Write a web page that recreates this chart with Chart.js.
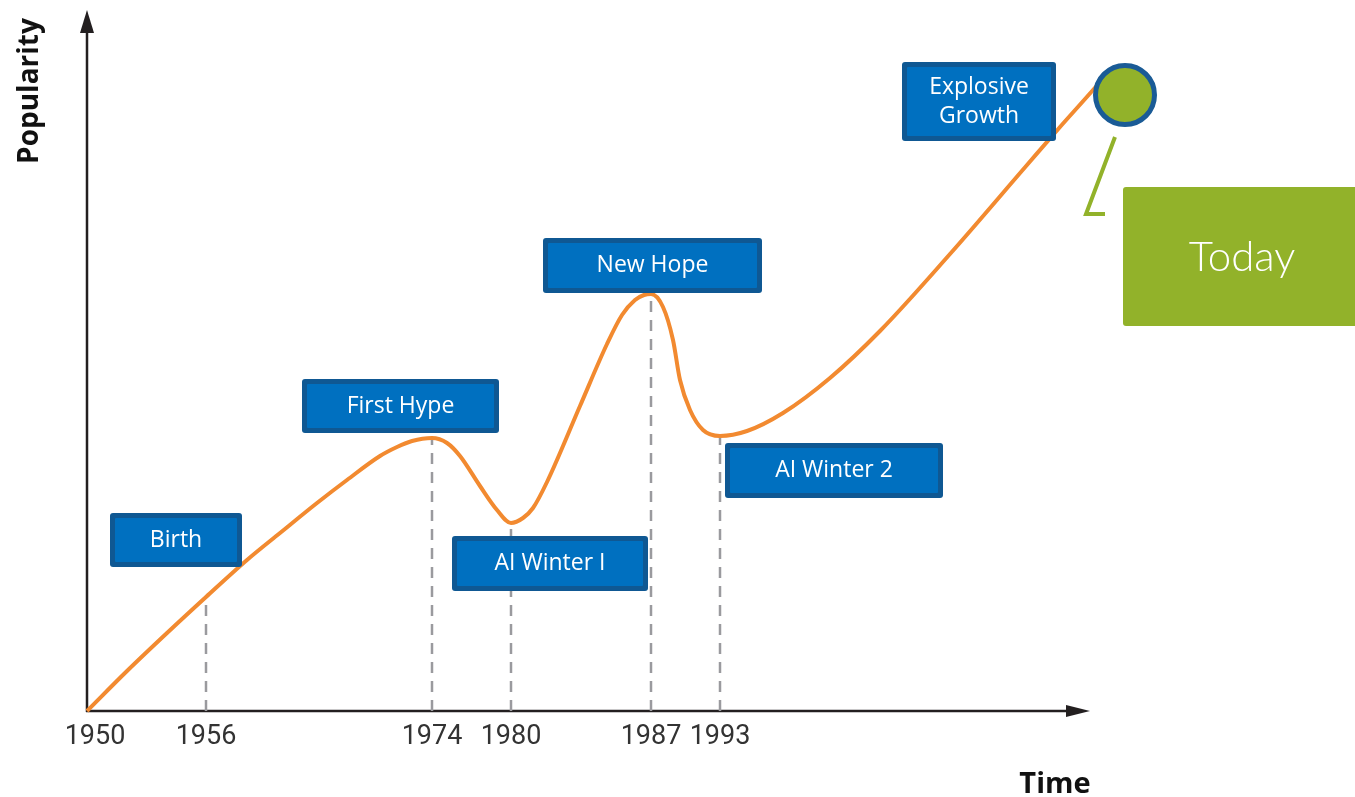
<!DOCTYPE html>
<html>
<head>
<meta charset="utf-8">
<script src="https://cdn.jsdelivr.net/npm/chart.js@4.4.0/dist/chart.umd.min.js"></script>
<style>
  html, body { margin: 0; padding: 0; background: #ffffff; }
  #wrap { width: 1355px; height: 797px; }
</style>
</head>
<body>
<div id="wrap"><canvas id="aiHistory" width="1355" height="797"></canvas></div>
<script>
// timeline ticks (position along the time axis is not linear in years)
const tickYears = ["1950", "1956", "1974", "1980", "1987", "1993"];
const tickPos = [0, 119, 345, 424, 564, 633];
const axisEnd = 1003; // where the time arrow stops
const axisTop = 701;  // where the popularity arrow stops

// popularity curve
const curveX = [0, 40, 80, 119, 160, 193, 230, 260, 293, 310, 325, 345, 360, 373, 393, 410, 424, 436, 446, 460, 493, 520, 535, 548, 557, 564, 576, 586, 593, 603, 616, 633, 660, 696, 743, 793, 863, 940, 973, 1006, 1018];
const curveY = [0, 40, 78, 114, 151, 178, 208, 231, 255, 264, 270, 273, 268, 255, 225, 201, 188, 193, 203, 229, 305, 367, 396, 411, 416, 417, 404, 371, 331, 301, 281, 275, 280, 298, 333, 380, 457, 546, 584, 621, 635];

// event names shown in the blue boxes
const eventLabels = [["Birth"], ["First Hype"], ["AI Winter I"], ["New Hope"], ["AI Winter 2"], ["Explosive", "Growth"]];
const todayLabel = "Today";

// today marker + its connector
const todayPoint = { x: 1038, y: 616 };
const connectorX = [1028, 999, 1018];
const connectorY = [574, 497, 497];

// box layout (center in axis units, size in px)
const boxLayout = [
  { cx: 89, cy: 171, w: 132, h: 54 },
  { cx: 313.5, cy: 305, w: 197, h: 54 },
  { cx: 463, cy: 147.5, w: 196, h: 55 },
  { cx: 565.5, cy: 445.5, w: 219, h: 55 },
  { cx: 747, cy: 240.5, w: 218, h: 55 },
  { cx: 892, cy: 609.5, w: 154, h: 79 },
];

const ORANGE = "#F28A30";
const BLUE = "#0070C0";
const BLUE_EDGE = "#0F5893";
const GREEN = "#92B22A";
const AXIS = "#231F20";

function curveValueAt(x) {
  const i = curveX.indexOf(x);
  return i >= 0 ? curveY[i] : 0;
}

const curveData = curveX.map((x, i) => ({ x: x, y: curveY[i] }));

// one dashed guide per tick (except the origin)
const guideSets = tickPos.slice(1).map((p) => ({
  data: [{ x: p, y: 0 }, { x: p, y: curveValueAt(p) }],
  borderColor: "#9A9A9E",
  borderWidth: 2.5,
  borderDash: [11, 8],
  pointRadius: 0,
  tension: 0,
  order: 3,
}));

function roundRect(ctx, x, y, w, h, r) {
  ctx.beginPath();
  ctx.moveTo(x + r, y);
  ctx.lineTo(x + w - r, y);
  ctx.quadraticCurveTo(x + w, y, x + w, y + r);
  ctx.lineTo(x + w, y + h - r);
  ctx.quadraticCurveTo(x + w, y + h, x + w - r, y + h);
  ctx.lineTo(x + r, y + h);
  ctx.quadraticCurveTo(x, y + h, x, y + h - r);
  ctx.lineTo(x, y + r);
  ctx.quadraticCurveTo(x, y, x + r, y);
  ctx.closePath();
}

const axesPlugin = {
  id: "arrowAxes",
  beforeDatasetsDraw(chart) {
    const ctx = chart.ctx;
    const xs = chart.scales.x;
    const ys = chart.scales.y;
    const x0 = xs.getPixelForValue(0);
    const y0 = ys.getPixelForValue(0);
    const xEnd = xs.getPixelForValue(axisEnd);
    const yEnd = ys.getPixelForValue(axisTop);

    ctx.save();
    ctx.strokeStyle = AXIS;
    ctx.fillStyle = AXIS;
    ctx.lineWidth = 2.5;
    // y axis
    ctx.beginPath();
    ctx.moveTo(x0, y0 + 1);
    ctx.lineTo(x0, yEnd + 20);
    ctx.stroke();
    ctx.beginPath();
    ctx.moveTo(x0, yEnd);
    ctx.lineTo(x0 - 7, yEnd + 23);
    ctx.lineTo(x0 + 7, yEnd + 23);
    ctx.closePath();
    ctx.fill();
    // x axis
    ctx.beginPath();
    ctx.moveTo(x0 - 1, y0);
    ctx.lineTo(xEnd - 20, y0);
    ctx.stroke();
    ctx.beginPath();
    ctx.moveTo(xEnd, y0);
    ctx.lineTo(xEnd - 24, y0 - 6);
    ctx.lineTo(xEnd - 24, y0 + 6);
    ctx.closePath();
    ctx.fill();

    // tick labels
    ctx.fillStyle = "#333333";
    ctx.font = "27px Roboto, 'DejaVu Sans Condensed', sans-serif";
    ctx.textAlign = "center";
    ctx.textBaseline = "alphabetic";
    tickYears.forEach((label, i) => {
      const px = xs.getPixelForValue(tickPos[i]) + (i === 0 ? 8 : 0);
      ctx.fillText(label, px, y0 + 33);
    });

    // axis titles
    ctx.fillStyle = "#111111";
    ctx.font = "bold 29px 'Open Sans', sans-serif";
    ctx.fillText("Time", xEnd - 35, y0 + 82);
    ctx.translate(x0 - 57, 91);
    ctx.rotate(-Math.PI / 2);
    ctx.font = "bold 28px 'Open Sans', sans-serif";
    ctx.textBaseline = "middle";
    ctx.fillText("Popularity", 0, 0);
    ctx.restore();
  },
  afterDatasetsDraw(chart) {
    const ctx = chart.ctx;
    const xs = chart.scales.x;
    const ys = chart.scales.y;

    ctx.save();
    // blue event boxes
    boxLayout.forEach((b, i) => {
      const cx = xs.getPixelForValue(b.cx);
      const cy = ys.getPixelForValue(b.cy);
      const left = cx - b.w / 2;
      const top = cy - b.h / 2;
      roundRect(ctx, left, top, b.w, b.h, 3);
      ctx.fillStyle = BLUE_EDGE;
      ctx.fill();
      roundRect(ctx, left + 5, top + 5, b.w - 10, b.h - 10, 1);
      ctx.fillStyle = BLUE;
      ctx.fill();

      ctx.fillStyle = "#ffffff";
      ctx.font = "23px 'Open Sans', sans-serif";
      ctx.textAlign = "center";
      ctx.textBaseline = "middle";
      const lines = eventLabels[i];
      const lh = 29;
      lines.forEach((t, k) => {
        ctx.fillText(t, cx, cy + (k - (lines.length - 1) / 2) * lh);
      });
    });

    // green "Today" panel
    const tLeft = xs.getPixelForValue(1036);
    const tTop = ys.getPixelForValue(524);
    const tBottom = ys.getPixelForValue(385);
    roundRect(ctx, tLeft, tTop, chart.width - tLeft + 4, tBottom - tTop, 3);
    ctx.fillStyle = GREEN;
    ctx.fill();
    ctx.fillStyle = "#ffffff";
    ctx.font = "300 42px Lato, 'Open Sans', sans-serif";
    ctx.textAlign = "center";
    ctx.textBaseline = "middle";
    ctx.fillText(todayLabel, tLeft + 119, (tTop + tBottom) / 2 + 1);
    ctx.restore();
  },
};

new Chart(document.getElementById("aiHistory"), {
  type: "line",
  data: {
    datasets: [
      {
        data: [todayPoint],
        showLine: false,
        pointRadius: 29.5,
        pointBorderWidth: 5,
        pointBackgroundColor: GREEN,
        pointBorderColor: "#1A5B96",
        clip: false,
        order: 0,
      },
      {
        data: curveData,
        borderColor: ORANGE,
        borderWidth: 4,
        pointRadius: 0,
        cubicInterpolationMode: "monotone",
        clip: false,
        order: 1,
      },
      {
        data: connectorX.map((x, i) => ({ x: x, y: connectorY[i] })),
        borderColor: GREEN,
        borderWidth: 4,
        pointRadius: 0,
        tension: 0,
        borderCapStyle: "butt",
        clip: false,
        order: 2,
      },
      ...guideSets,
    ],
  },
  options: {
    responsive: false,
    animation: false,
    layout: { autoPadding: false, padding: { left: 87, right: 100, top: 10, bottom: 86 } },
    scales: {
      x: { type: "linear", min: 0, max: 1168, display: false },
      y: { type: "linear", min: 0, max: 701, display: false },
    },
    plugins: {
      legend: { display: false },
      tooltip: { enabled: false },
    },
  },
  plugins: [axesPlugin],
});
</script>
</body>
</html>
